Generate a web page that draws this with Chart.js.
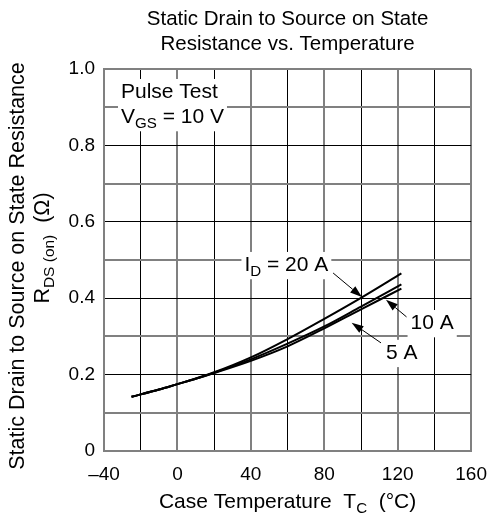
<!DOCTYPE html>
<html>
<head>
<meta charset="utf-8">
<script src="https://cdn.jsdelivr.net/npm/chart.js@4/dist/chart.umd.min.js"></script>
<style>
    html, body { margin: 0; padding: 0; background: #fff; }
    #wrap { width: 499px; height: 519px; }
</style>
</head>
<body>
<div id="wrap"><canvas id="myChart"></canvas></div>
<script>
// case temperature (°C) and R_DS(on) (ohm)
const case_temp = [-25, -10, 0, 10, 20, 40, 60, 80, 100, 122]
const rds_20A = [0.142, 0.161, 0.175, 0.190, 0.206, 0.245, 0.293, 0.346, 0.401, 0.465]
const rds_10A = [0.142, 0.161, 0.175, 0.189, 0.205, 0.240, 0.281, 0.326, 0.378, 0.436]
const rds_5A = [0.142, 0.161, 0.175, 0.189, 0.204, 0.236, 0.274, 0.321, 0.371, 0.425]

const x_ticks = [-40, 0, 40, 80, 120, 160]
const y_ticks = [0, 0.2, 0.4, 0.6, 0.8, 1.0]

const FONT = '"Liberation Sans", Arial, Helvetica, sans-serif'
const FS = 19          // tick labels
const FS_TITLE = 20.5
const FS_NOTE = 21
const FS_YLAB = 21.5
const FS_XLAB = 21
const GRAY = '#808080'

const toPts = (ys) => case_temp.map((t, i) => ({ x: t, y: ys[i] }))

// draws text with subscript pieces: parts = [[text, isSub], ...]
function drawRich(ctx, parts, x, y, align, size, bg) {
    let total = 0
    for (const [t, sub] of parts) {
        ctx.font = `${sub ? size * 0.72 : size}px ${FONT}`
        total += ctx.measureText(t).width
    }
    let cx = align === 'center' ? x - total / 2 : x
    if (bg) {
        ctx.fillStyle = '#fff'
        ctx.fillRect(cx - 3, y - size * 0.62, total + 6, size * 1.3)
    }
    ctx.fillStyle = '#000'
    ctx.textBaseline = 'middle'
    ctx.textAlign = 'left'
    for (const [t, sub] of parts) {
        ctx.font = `${sub ? size * 0.72 : size}px ${FONT}`
        ctx.fillText(t, cx, sub ? y + size * 0.32 : y)
        cx += ctx.measureText(t).width
    }
    return total
}

function arrow(ctx, x1, y1, x2, y2) {
    const ang = Math.atan2(y2 - y1, x2 - x1)
    const len = 12, half = 4
    ctx.strokeStyle = '#000'
    ctx.lineWidth = 1
    ctx.beginPath()
    ctx.moveTo(x1, y1)
    ctx.lineTo(x2 - Math.cos(ang) * len, y2 - Math.sin(ang) * len)
    ctx.stroke()
    ctx.fillStyle = '#000'
    ctx.beginPath()
    ctx.moveTo(x2, y2)
    ctx.lineTo(x2 - Math.cos(ang) * len - Math.sin(ang) * half, y2 - Math.sin(ang) * len + Math.cos(ang) * half)
    ctx.lineTo(x2 - Math.cos(ang) * len + Math.sin(ang) * half, y2 - Math.sin(ang) * len - Math.cos(ang) * half)
    ctx.closePath()
    ctx.fill()
}

// annotation labels, in data units
const notes = [
    { parts: [['I', false], ['D', true], [' = 20 A', false]], x: 36.5, y: 0.487, from: [84.8, 0.466], to: [100.5, 0.403] },
    { parts: [['10 A', false]], x: 127, y: 0.335, from: [124.8, 0.351], to: [113.6, 0.396] },
    { parts: [['5 A', false]], x: 113.6, y: 0.257, from: [110.9, 0.283], to: [94.9, 0.336] },
]

const textPlugin = {
    id: 'texts',
    afterDatasetsDraw(chart) {
        const ctx = chart.ctx
        const xs = chart.scales.x, ys = chart.scales.y
        const area = chart.chartArea
        const cx = (area.left + area.right) / 2
        ctx.save()

        // pulse test box
        drawRich(ctx, [['Pulse Test', false]], area.left + 17, area.top + 23, 'left', FS_NOTE, true)
        drawRich(ctx, [['V', false], ['GS', true], [' = 10 V', false]], area.left + 17, area.top + 48, 'left', FS_NOTE, true)

        for (const n of notes) {
            drawRich(ctx, n.parts, xs.getPixelForValue(n.x), ys.getPixelForValue(n.y), 'left', FS_NOTE, true)
            arrow(ctx, xs.getPixelForValue(n.from[0]), ys.getPixelForValue(n.from[1]),
                xs.getPixelForValue(n.to[0]), ys.getPixelForValue(n.to[1]))
        }

        // titles
        drawRich(ctx, [['Static Drain to Source on State', false]], cx, 19, 'center', FS_TITLE)
        drawRich(ctx, [['Resistance vs. Temperature', false]], cx, 44, 'center', FS_TITLE)

        drawRich(ctx, [['Case Temperature  T', false], ['C', true], ['  (°C)', false]], cx, 502, 'center', FS_XLAB)

        ctx.translate(18, 266)
        ctx.rotate(-Math.PI / 2)
        drawRich(ctx, [['Static Drain to Source on State Resistance', false]], 0, 0, 'center', FS_YLAB)
        ctx.translate(18, 25)
        drawRich(ctx, [['R', false], ['DS (on)', true], ['  (Ω)', false]], 0, 0, 'center', FS_YLAB)
        ctx.restore()
    }
}

const config = {
    type: 'line',
    data: {
        datasets: [
            { label: 'ID = 20 A', data: toPts(rds_20A) },
            { label: 'ID = 10 A', data: toPts(rds_10A) },
            { label: 'ID = 5 A', data: toPts(rds_5A) },
        ].map(d => ({
            ...d,
            borderColor: '#000',
            borderWidth: 2,
            pointRadius: 0,
            cubicInterpolationMode: 'monotone',
        }))
    },
    options: {
        responsive: true,
        maintainAspectRatio: false,
        animation: false,
        layout: { padding: { left: 0, top: 69, right: 20, bottom: 0 } },
        plugins: { legend: { display: false }, tooltip: { enabled: false } },
        scales: {
            x: {
                type: 'linear',
                min: -40,
                max: 160,
                afterFit: (s) => { s.height = 68 },
                ticks: {
                    stepSize: 20,
                    autoSkip: false,
                    maxRotation: 0,
                    padding: 12,
                    color: '#000',
                    font: { family: FONT, size: FS },
                    callback: (v) => x_ticks.includes(v) ? (v < 0 ? '–' + Math.abs(v) : String(v)) : ''
                },
                grid: {
                    drawTicks: false,
                    color: (c) => Math.round(c.tick.value) % 40 === 0 ? GRAY : '#000',
                    lineWidth: (c) => Math.round(c.tick.value) % 40 === 0 ? 2 : 1,
                },
                border: { color: GRAY, width: 2 }
            },
            y: {
                min: 0,
                max: 1,
                afterFit: (s) => { s.width = 104 },
                ticks: {
                    stepSize: 0.1,
                    padding: 9,
                    color: '#000',
                    font: { family: FONT, size: FS },
                    callback: (v) => {
                        const k = Math.round(v * 10)
                        if (!y_ticks.some(t => Math.round(t * 10) === k)) return ''
                        return k === 0 ? '0' : (k / 10).toFixed(1)
                    }
                },
                grid: {
                    drawTicks: false,
                    color: (c) => {
                        const k = Math.round(c.tick.value * 10)
                        return (k % 2 === 0 && k > 0 && k < 10) ? '#000' : GRAY
                    },
                    lineWidth: (c) => {
                        const k = Math.round(c.tick.value * 10)
                        return (k % 2 === 0 && k > 0 && k < 10) ? 1 : 2
                    },
                },
                border: { color: GRAY, width: 2 }
            }
        }
    },
    plugins: [textPlugin]
}

new Chart(document.getElementById('myChart'), config)
</script>
</body>
</html>
